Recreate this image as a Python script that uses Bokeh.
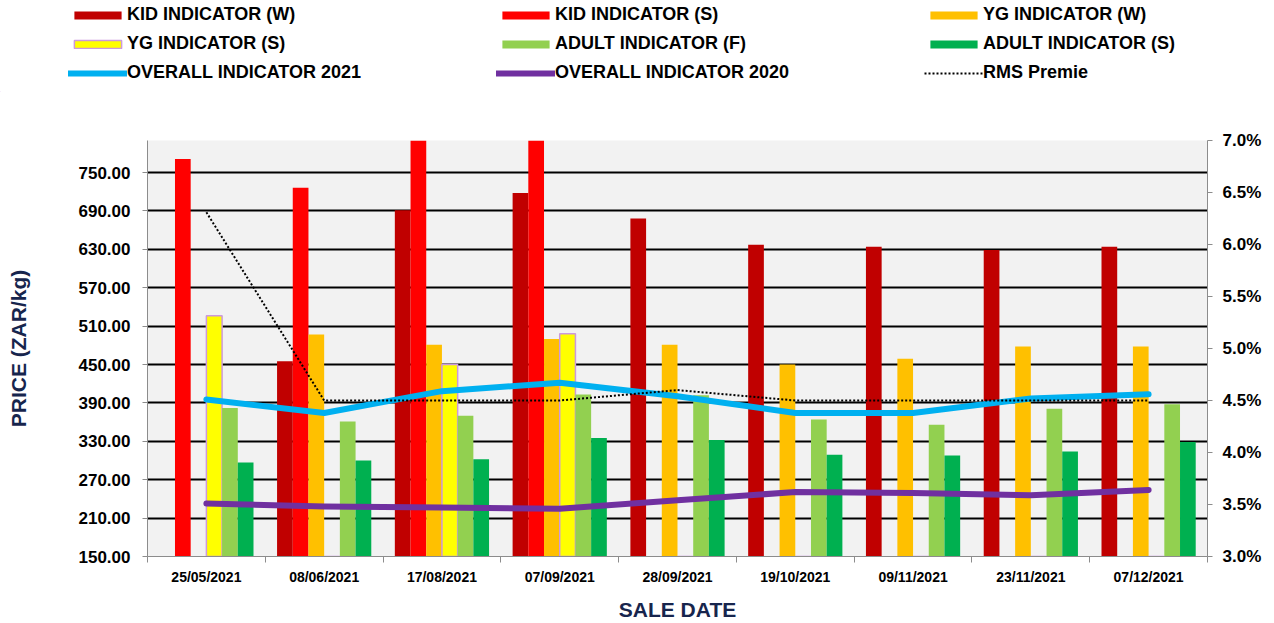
from bokeh.plotting import figure
from bokeh.layouts import column
from bokeh.models import (Range1d, LinearAxis, FixedTicker, PrintfTickFormatter,
                          Legend, LegendItem, ColumnDataSource)
from bokeh.transform import dodge
from bokeh.embed import file_html
from bokeh.resources import INLINE

# ---------------- data ----------------
dates = ["25/05/2021", "08/06/2021", "17/08/2021", "07/09/2021", "28/09/2021",
         "19/10/2021", "09/11/2021", "23/11/2021", "07/12/2021"]
kid_w = [0, 455, 691, 718, 678, 637, 634, 629, 634]
kid_s = [771, 726, 820, 818, 0, 0, 0, 0, 0]
yg_w = [0, 497, 481, 490, 481, 450, 459, 478, 478]
yg_s = [526, 0, 450, 498, 0, 0, 0, 0, 0]
adult_f = [382, 361, 370, 403, 402, 364, 356, 381, 388]
adult_s = [297, 300, 302, 335, 332, 309, 308, 314, 329]
overall_2021 = [4.51, 4.38, 4.59, 4.67, 4.54, 4.38, 4.38, 4.52, 4.56]
overall_2020 = [3.51, 3.48, 3.47, 3.46, 3.54, 3.62, 3.61, 3.59, 3.64]
rms_premie = [6.31, 4.50, 4.50, 4.50, 4.60, 4.50, 4.50, 4.50, 4.50]
price_ticks = [150, 210, 270, 330, 390, 450, 510, 570, 630, 690, 750]
pct_ticks = [3.0, 3.5, 4.0, 4.5, 5.0, 5.5, 6.0, 6.5, 7.0]

bar_series = [
    ("KID INDICATOR (W)", "kid_w", "#C00000", None),
    ("KID INDICATOR (S)", "kid_s", "#FF0000", None),
    ("YG INDICATOR (W)", "yg_w", "#FFC000", None),
    ("YG INDICATOR (S)", "yg_s", "#FFFF00", "#CC99DD"),
    ("ADULT INDICATOR (F)", "adult_f", "#92D050", None),
    ("ADULT INDICATOR (S)", "adult_s", "#00B050", None),
]
line_series = [
    ("OVERALL INDICATOR 2021", "o21", "#00B0F0", 6, None),
    ("OVERALL INDICATOR 2020", "o20", "#7030A0", 6, None),
    ("RMS Premie", "rms", "black", 2, "2 2"),
]

FONT = "Liberation Sans"
NAVY = "#17254D"
AXIS_GRAY = "#8C8C8C"
W, H = 1274, 623
LEG_H = 92

n = len(dates)
centers = [i + 0.5 for i in range(n)]
src = ColumnDataSource(dict(x=centers, kid_w=kid_w, kid_s=kid_s, yg_w=yg_w, yg_s=yg_s,
                            adult_f=adult_f, adult_s=adult_s, o21=overall_2021,
                            o20=overall_2020, rms=rms_premie))

# ---------------- main chart ----------------
p = figure(width=W, height=H - LEG_H, x_range=Range1d(0, n), y_range=Range1d(150, 800),
           output_backend="svg", toolbar_location=None,
           min_border_left=147, min_border_right=67, min_border_top=140 - LEG_H,
           min_border_bottom=66, background_fill_color="#F2F2F2",
           border_fill_color="white")
p.frame_align = False
p.outline_line_color = None
p.extra_y_ranges = {"pct": Range1d(3.0, 7.0)}

bw = 0.8 / 6
for k, (name, col, color, lc) in enumerate(bar_series):
    off = -0.4 + (k + 0.5) * bw
    p.vbar(x=dodge("x", off, range=p.x_range), top=col, bottom=0,
           width=bw, source=src, fill_color=color,
           line_color=lc if lc else None, line_width=1.5 if lc else 0)

for name, col, color, lw, dash in line_series:
    if dash:
        p.line("x", col, source=src, y_range_name="pct", line_color=color,
               line_width=lw, line_dash=dash)
    else:
        p.line("x", col, source=src, y_range_name="pct", line_color=color,
               line_width=lw, line_cap="round", line_join="round")

# x axis
xa = p.xaxis[0]
xa.ticker = FixedTicker(ticks=centers, minor_ticks=list(range(n + 1)))
xa.major_label_overrides = {c: d for c, d in zip(centers, dates)}
xa.major_tick_line_color = None
xa.minor_tick_line_color = AXIS_GRAY
xa.minor_tick_out = 6
xa.minor_tick_in = 0
xa.axis_line_color = AXIS_GRAY
xa.major_label_text_font = FONT
xa.major_label_text_font_style = "bold"
xa.major_label_text_font_size = "14px"
xa.major_label_text_color = "black"
xa.major_label_standoff = 6
xa.axis_label = "SALE DATE"
xa.axis_label_text_font = FONT
xa.axis_label_text_font_style = "bold"
xa.axis_label_text_font_size = "21px"
xa.axis_label_text_color = NAVY
xa.axis_label_standoff = 10

# left axis
ya = p.yaxis[0]
ya.ticker = FixedTicker(ticks=price_ticks)
ya.formatter = PrintfTickFormatter(format="%.2f")
ya.minor_tick_line_color = None
ya.major_tick_out = 5
ya.major_tick_in = 0
ya.major_tick_line_color = AXIS_GRAY
ya.axis_line_color = AXIS_GRAY
ya.major_label_text_font = FONT
ya.major_label_text_font_style = "bold"
ya.major_label_text_font_size = "17px"
ya.major_label_text_color = "black"
ya.major_label_standoff = 12
ya.axis_label = "PRICE (ZAR/kg)"
ya.axis_label_text_font = FONT
ya.axis_label_text_font_style = "bold"
ya.axis_label_text_font_size = "21px"
ya.axis_label_text_color = NAVY
ya.axis_label_standoff = 46

# right axis
ra = LinearAxis(y_range_name="pct", ticker=FixedTicker(ticks=pct_ticks),
                formatter=PrintfTickFormatter(format="%.1f%%"))
ra.minor_tick_line_color = None
ra.major_tick_out = 5
ra.major_tick_in = 0
ra.major_tick_line_color = AXIS_GRAY
ra.axis_line_color = AXIS_GRAY
ra.major_label_text_font = FONT
ra.major_label_text_font_style = "bold"
ra.major_label_text_font_size = "17px"
ra.major_label_text_color = "black"
ra.major_label_standoff = 10
p.add_layout(ra, "right")

p.xgrid.visible = False
p.ygrid.ticker = FixedTicker(ticks=price_ticks)
p.ygrid.grid_line_color = "black"
p.ygrid.grid_line_width = 2

# ---------------- legend strip ----------------
lf = figure(width=W, height=LEG_H, x_range=Range1d(0, 1), y_range=Range1d(0, 1),
            output_backend="svg", toolbar_location=None, min_border=0,
            x_axis_location=None, y_axis_location=None, border_fill_color="white",
            background_fill_color="white")
lf.frame_align = False
lf.outline_line_color = None
lf.grid.visible = False
offscreen = ColumnDataSource(dict(x=[-10, -11], y=[-10, -11]))
items = []
for name, col, color, lc in bar_series:
    r = lf.vbar(x="x", top="y", width=0.1, source=offscreen, fill_color=color,
                line_color=lc if lc else None, line_width=1.5 if lc else 0)
    items.append(LegendItem(label=name, renderers=[r]))
for name, col, color, lw, dash in line_series:
    if dash:
        r = lf.line("x", "y", source=offscreen, line_color=color, line_width=lw,
                    line_dash=dash)
    else:
        r = lf.line("x", "y", source=offscreen, line_color=color, line_width=lw,
                    line_cap="round")
    items.append(LegendItem(label=name, renderers=[r]))

legend = Legend(items=items, location=(68, 9), orientation="horizontal",
                ncols=3, glyph_width=59, glyph_height=10, label_standoff=0,
                label_width=361, label_height=21, spacing=8, padding=0, margin=0,
                background_fill_alpha=0, border_line_color=None,
                label_text_font=FONT, label_text_font_style="bold",
                label_text_font_size="18px", label_text_color="black")
lf.add_layout(legend)

layout = column(lf, p, spacing=0)
open("out.html", "w").write(file_html(layout, INLINE))
